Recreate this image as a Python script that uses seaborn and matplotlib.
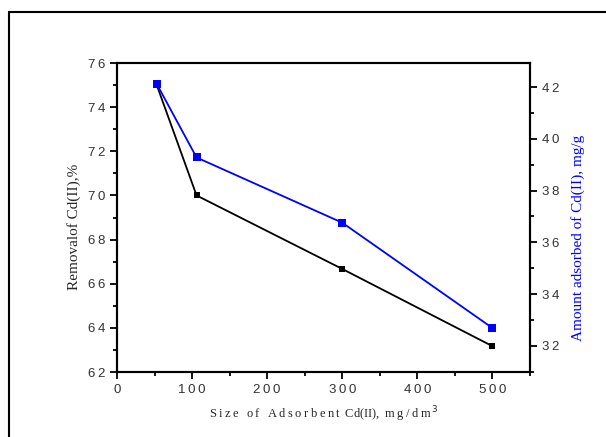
import numpy as np
import matplotlib
matplotlib.use('Agg')
import matplotlib.pyplot as plt
from matplotlib.ticker import MultipleLocator
from matplotlib.lines import Line2D
import seaborn as sns
import pandas as pd

# values
dose = [53, 106, 300, 500]
removal = [75.0, 70.0, 66.67, 63.17]      # %, left axis
adsorbed = [42.12, 39.28, 36.76, 32.69]   # mg/g, right axis
xticks = [0, 100, 200, 300, 400, 500]
lticks = [62, 64, 66, 68, 70, 72, 74, 76]
rticks = [32, 34, 36, 38, 40, 42]

df = pd.DataFrame({'dose': dose, 'removal': removal, 'adsorbed': adsorbed})

sns.set_style('white')
plt.rcParams['font.family'] = ['Liberation Sans', 'DejaVu Sans']

fig = plt.figure(figsize=(6.06, 4.37), dpi=100)
ax = fig.add_axes([0.193, 0.1487, 0.6816, 0.7071])

sns.lineplot(data=df, x='dose', y='removal', ax=ax, color='black', lw=1.3,
             marker='s', markersize=5, markeredgewidth=0)
ax2 = ax.twinx()
sns.lineplot(data=df, x='dose', y='adsorbed', ax=ax2, color='#0000ff', lw=1.3,
             marker='s', markersize=5.5, markeredgewidth=0)

ax.xaxis.set_minor_locator(MultipleLocator(50))
ax.yaxis.set_minor_locator(MultipleLocator(1))
ax2.yaxis.set_minor_locator(MultipleLocator(1))

for s in list(ax.spines.values()) + list(ax2.spines.values()):
    s.set_linewidth(1.5)
    s.set_color('black')

ax.tick_params(which='both', direction='out', color='black', width=1.3,
               left=True, bottom=True, top=False, right=False,
               labelsize=9.5, labelcolor='#333333')
ax.tick_params(which='major', length=5)
ax.tick_params(which='minor', length=3)
ax2.tick_params(which='both', direction='out', color='black', width=1.3,
                right=True, labelsize=9.5, labelcolor='#333333')
ax2.tick_params(which='major', length=5)
ax2.tick_params(which='minor', length=3)

def spaced(v):
    return '\u2009'.join(str(v))

ax.set_xticks(xticks)
ax.set_xticklabels([spaced(v) for v in xticks])
ax.set_yticks(lticks)
ax.set_yticklabels([spaced(v) for v in lticks])
ax2.set_yticks(rticks)
ax2.set_yticklabels([spaced(v) for v in rticks])
ax.set_xlim(0, 550)
ax.set_ylim(62, 76)
ax2.set_ylim(30.99, 42.93)

serif = ['Liberation Serif', 'DejaVu Serif']
ax.set_xlabel('\u2009'.join('Size of Adsorbent ') + 'Cd(II),\u2009 m\u2009g\u2009/\u2009d\u2009m$^{\\,3}$',
              family=serif, fontsize=9, labelpad=6)
ax.set_ylabel('Removalof Cd(II),%', family=serif, fontsize=11)
ax2.set_ylabel('Amount adsorbed of Cd(II), mg/g', family=serif, fontsize=11,
               color='#0000ff')
ax.yaxis.set_label_coords(-0.088, 0.47)
ax2.yaxis.set_label_coords(1.10, 0.435)
ax.grid(False)
ax2.grid(False)

# outer frame of the original figure
fig.add_artist(Line2D([0.015, 0.015], [0, 0.973], transform=fig.transFigure,
                      color='black', lw=1.5))
fig.add_artist(Line2D([0.015, 1.0], [0.973, 0.973], transform=fig.transFigure,
                      color='black', lw=1.5))

plt.savefig('out.png', dpi=100)
